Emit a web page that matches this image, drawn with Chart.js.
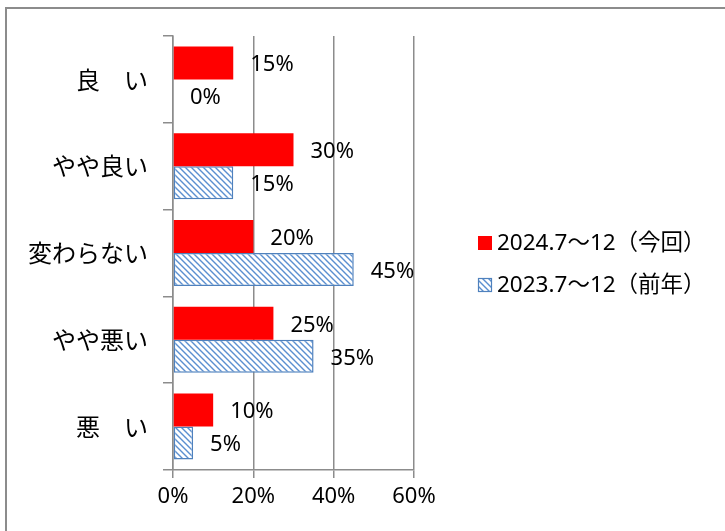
<!DOCTYPE html>
<html>
<head>
<meta charset="utf-8">
<script src="https://cdn.jsdelivr.net/npm/chart.js@4"></script>
<style>
  html, body { margin: 0; padding: 0; background: #fff; overflow: hidden; }
  #frame { position: absolute; left: 5px; top: 7px; width: 800px; height: 600px; border: 2px solid #8c8c8c; }
  #wrap { position: absolute; left: 0; top: 0; width: 725px; height: 531px; }
</style>
</head>
<body>
<div id="frame"></div>
<div id="wrap"><canvas id="answerChart"></canvas></div>
<script>
// data
const categories = ['良　い', 'やや良い', '変わらない', 'やや悪い', '悪　い'];
const thisPeriod = [15, 30, 20, 25, 10];   // 2024.7～12（今回）
const lastYear = [0, 15, 45, 35, 5];       // 2023.7～12（前年）
const seriesNames = ['2024.7～12（今回）', '2023.7～12（前年）'];
const xTicks = [0, 20, 40, 60];

const gray = '#8c8c8c';
const red = '#ff0000';
const blue = '#4f81bd';

// hatched fill for last year's bars
function makeHatch() {
    const c = document.createElement('canvas');
    c.width = 6; c.height = 6;
    const g = c.getContext('2d');
    g.fillStyle = '#fff';
    g.fillRect(0, 0, 6, 6);
    g.strokeStyle = '#5b8fd0';
    g.lineWidth = 1.4;
    g.beginPath();
    g.moveTo(-1, -1); g.lineTo(7, 7);
    g.moveTo(-1, 5); g.lineTo(1, 7);
    g.moveTo(5, -1); g.lineTo(7, 1);
    g.stroke();
    return g.createPattern(c, 'repeat');
}
const hatch = makeHatch();

// value labels at the end of each bar
const valueLabels = {
    id: 'valueLabels',
    afterDatasetsDraw(chart) {
        const ctx = chart.ctx;
        ctx.save();
        ctx.font = '22px "Noto Sans", sans-serif';
        ctx.fillStyle = '#000';
        ctx.textAlign = 'left';
        ctx.textBaseline = 'middle';
        chart.data.datasets.forEach((ds, i) => {
            chart.getDatasetMeta(i).data.forEach((bar, j) => {
                ctx.fillText(ds.data[j] + '%', bar.x + 17, bar.y + 2);
            });
        });
        ctx.restore();
    }
};

// legend on the right side
const sideLegend = {
    id: 'sideLegend',
    afterDraw(chart) {
        const ctx = chart.ctx;
        ctx.save();
        ctx.font = '22.5px "Noto Sans", "Noto Sans CJK JP", sans-serif';
        ctx.textBaseline = 'middle';
        ctx.fillStyle = '#000';
        const x = 478, y0 = 243, step = 42;
        chart.data.datasets.forEach((ds, i) => {
            const y = y0 + i * step;
            ctx.fillStyle = ds.backgroundColor;
            ctx.fillRect(x, y - 7, 14, 14);
            if (ds.borderWidth) {
                ctx.strokeStyle = ds.borderColor;
                ctx.lineWidth = 1.2;
                ctx.strokeRect(x + 0.5, y - 6.5, 13, 13);
            }
            ctx.fillStyle = '#000';
            ctx.fillText(ds.label, x + 19, y + 1);
        });
        ctx.restore();
    }
};

const AnswerCanvas = document.getElementById('answerChart');
const AnswerChart = new Chart(AnswerCanvas, {
    type: 'bar',
    data: {
        labels: categories,
        datasets: [{
            label: seriesNames[0],
            data: thisPeriod,
            backgroundColor: red,
            borderWidth: 0,
            categoryPercentage: 0.76,
            barPercentage: 1.0,
        }, {
            label: seriesNames[1],
            data: lastYear,
            backgroundColor: hatch,
            borderColor: blue,
            borderWidth: 1.5,
            borderSkipped: false,
            categoryPercentage: 0.76,
            barPercentage: 1.0,
        }]
    },
    options: {
        indexAxis: 'y',
        responsive: true,
        maintainAspectRatio: false,
        animation: false,
        layout: { padding: { top: 36, right: 311, left: 0, bottom: 0 } },
        plugins: {
            legend: { display: false },
            tooltip: { enabled: false }
        },
        scales: {
            x: {
                min: 0,
                max: 60,
                afterBuildTicks: (scale) => { scale.ticks = xTicks.map(v => ({ value: v })); },
                afterFit: (scale) => { scale.height = 61; },
                ticks: {
                    color: '#000',
                    font: { family: '"Noto Sans", sans-serif', size: 22 },
                    padding: 6,
                    callback: (v) => v + '%'
                },
                grid: { color: gray, lineWidth: 1.5, tickLength: 8 },
                border: { color: gray, width: 1.5 }
            },
            y: {
                afterFit: (scale) => { scale.width = 173; },
                ticks: {
                    color: '#000',
                    font: { family: '"Noto Sans CJK JP", sans-serif', size: 24 },
                    padding: 15
                },
                grid: { drawOnChartArea: false, color: gray, lineWidth: 1.5, tickLength: 10, offset: true },
                border: { color: gray, width: 1.5 }
            }
        }
    },
    plugins: [valueLabels, sideLegend]
});
</script>
</body>
</html>
